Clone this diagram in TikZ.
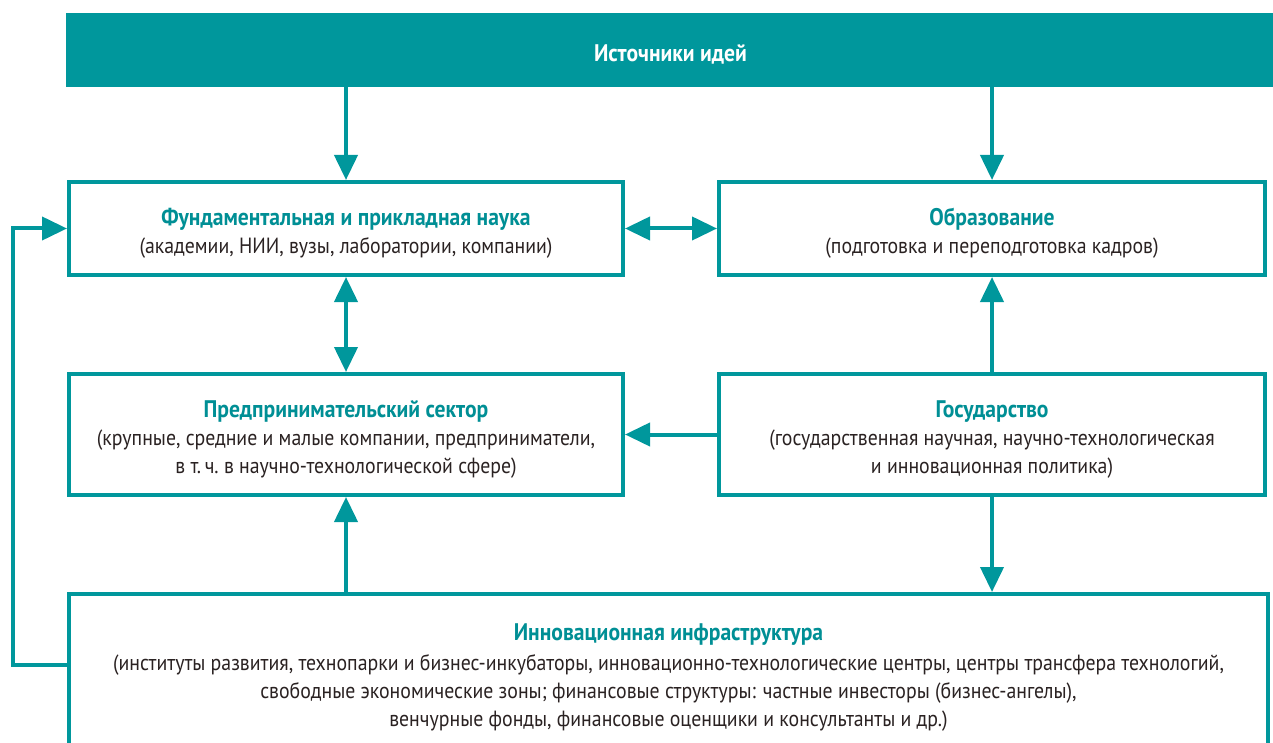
\documentclass[tikz,border=0pt]{standalone}
\usepackage{fontspec}
\setmainfont{PT Sans}[FakeStretch=0.9]
\usetikzlibrary{arrows.meta,calc}
\definecolor{teal1}{HTML}{00979C}
\definecolor{tealtext}{HTML}{008F95}
\definecolor{body}{HTML}{2A2222}
\newcommand{\ttl}[1]{{\fontsize{24}{28}\selectfont\color{tealtext}\bfseries\rule{0pt}{26pt}#1}}
\begin{document}
\begin{tikzpicture}[x=1pt,y=-1pt,
  box/.style={draw=teal1,line width=4pt,fill=white,rectangle,inner sep=0pt,align=center,
    font=\fontsize{22}{28}\selectfont,text=body},
  arr/.style={draw=teal1,line width=4pt,-{Triangle[width=23pt,length=25pt]}},
  darr/.style={draw=teal1,line width=4pt,{Triangle[width=23pt,length=25pt]}-{Triangle[width=23pt,length=25pt]}}]
\useasboundingbox (0,0) rectangle (1273,743);
\node[fill=teal1,minimum width=1209pt,minimum height=74pt,inner sep=0pt,text=white,
  font=\fontsize{24}{28}\selectfont\bfseries] (bar) at (670.5,50) {\rule{0pt}{26pt}Источники идей};
\node[box,minimum width=554pt,minimum height=93pt] (fund) at (346,228.5)
  {\ttl{Фундаментальная и прикладная наука}\\(академии, НИИ, вузы, лаборатории, компании)};
\node[box,minimum width=546pt,minimum height=93pt] (obr) at (992,228.5)
  {\ttl{Образование}\\(подготовка и переподготовка кадров)};
\node[box,minimum width=554pt,minimum height=121pt] (pred) at (346,434.5)
  {\ttl{Предпринимательский сектор}\\(крупные, средние и малые компании, предприниматели,\\в т.\,ч.\ в научно-технологической сфере)};
\node[box,minimum width=546pt,minimum height=121pt] (gos) at (992,434.5)
  {\ttl{Государство}\\(государственная научная, научно-технологическая\\и инновационная политика)};
\node[box,minimum width=1199pt,minimum height=158pt] (inn) at (668.5,673)
  {\ttl{Инновационная инфраструктура}\\[2pt](институты развития, технопарки и бизнес-инкубаторы, инновационно-технологические центры, центры трансфера технологий,\\свободные экономические зоны; финансовые структуры: частные инвесторы (бизнес-ангелы),\\венчурные фонды, финансовые оценщики и консультанты и др.)};
\coordinate (lx) at (13,0);
\draw[arr] (fund.north |- bar.south) -- (fund.north);
\draw[arr] (obr.north |- bar.south) -- (obr.north);
\draw[darr] (fund.east) -- (obr.west);
\draw[darr] (fund.south) -- (pred.north);
\draw[arr] (gos.north) -- (obr.south);
\draw[arr] (gos.west) -- (pred.east);
\draw[arr] (gos.south) -- (gos.south |- inn.north);
\draw[arr] (pred.south |- inn.north) -- (pred.south);
\draw[arr] ($(inn.west)+(0,-8)$) -- ($(lx |- inn.west)+(0,-8)$) |- (fund.west);
\end{tikzpicture}
\end{document}
